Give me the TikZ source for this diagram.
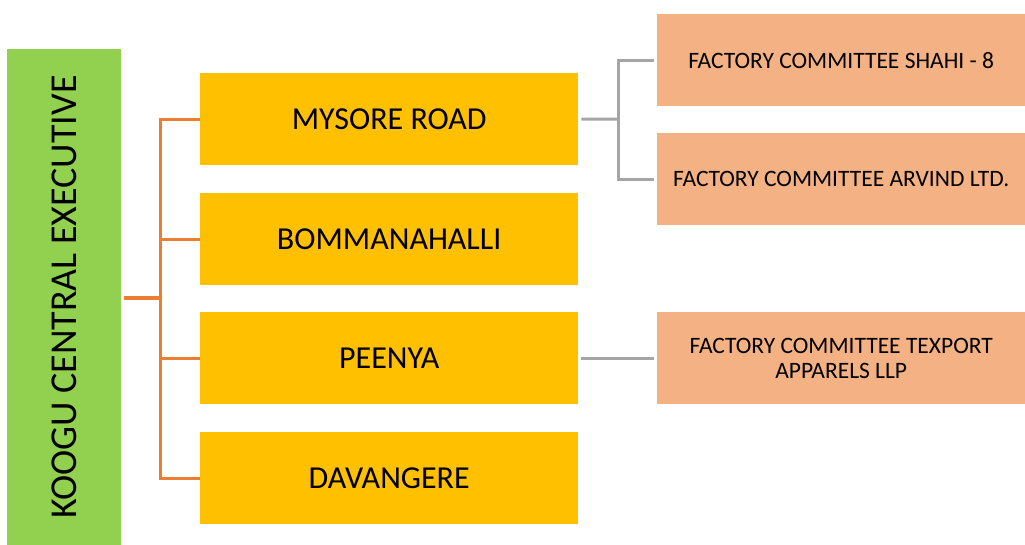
\documentclass[tikz,border=0pt]{standalone}
\usepackage{fontspec}
\setmainfont{Carlito}
\definecolor{gbox}{HTML}{92D050}
\definecolor{ybox}{HTML}{FFC000}
\definecolor{obox}{HTML}{F4B183}
\definecolor{oline}{HTML}{ED7D31}
\definecolor{gline}{HTML}{A5A5A5}
\begin{document}
\begin{tikzpicture}[x=1pt,y=-1pt,
  ybx/.style={fill=ybox,draw=none,minimum width=378pt,minimum height=92pt,inner sep=0pt,font=\fontsize{32}{36}\selectfont,anchor=north west},
  obx/.style={fill=obox,draw=none,minimum width=368pt,minimum height=92pt,inner sep=0pt,font=\fontsize{23.5}{25}\selectfont,anchor=north west,align=center},
  ol/.style={draw=oline,line width=3pt},
  gl/.style={draw=gline,line width=3pt}]
\useasboundingbox (0,0) rectangle (1025,545);
\node[fill=gbox,minimum width=114pt,minimum height=496pt,inner sep=0pt,anchor=north west] (root) at (7,49) {};
\node[rotate=90,font=\fontsize{38}{42}\selectfont] at (root.center) {KOOGU CENTRAL EXECUTIVE};
\node[ybx] (m) at (200,73) {MYSORE ROAD};
\node[ybx] (b) at (200,193) {BOMMANAHALLI};
\node[ybx] (p) at (200,312) {PEENYA};
\node[ybx] (d) at (200,432) {DAVANGERE};
\node[obx] (s) at (657,14) {FACTORY COMMITTEE SHAHI - 8};
\node[obx] (a) at (657,133) {FACTORY COMMITTEE ARVIND LTD.};
\node[obx] (t) at (657,312) {FACTORY COMMITTEE TEXPORT\\APPARELS LLP};
\coordinate (j) at (160,298);
\draw[ol] ([xshift=3pt]root.east |- j) -- (j);
\draw[ol] (m.west) -- (j |- m.west) -- (j |- d.west) -- (d.west);
\draw[ol] (j |- b.west) -- (b.west);
\draw[ol] (j |- p.west) -- (p.west);
\coordinate (k) at (618,119);
\draw[gl] ([xshift=3pt]m.east) -- (k);
\draw[gl] ([xshift=-3pt]s.west) -- (k |- s.west) -- (k |- a.west) -- ([xshift=-3pt]a.west);
\draw[gl] ([xshift=3pt]p.east) -- ([xshift=-3pt]t.west);
\end{tikzpicture}
\end{document}
